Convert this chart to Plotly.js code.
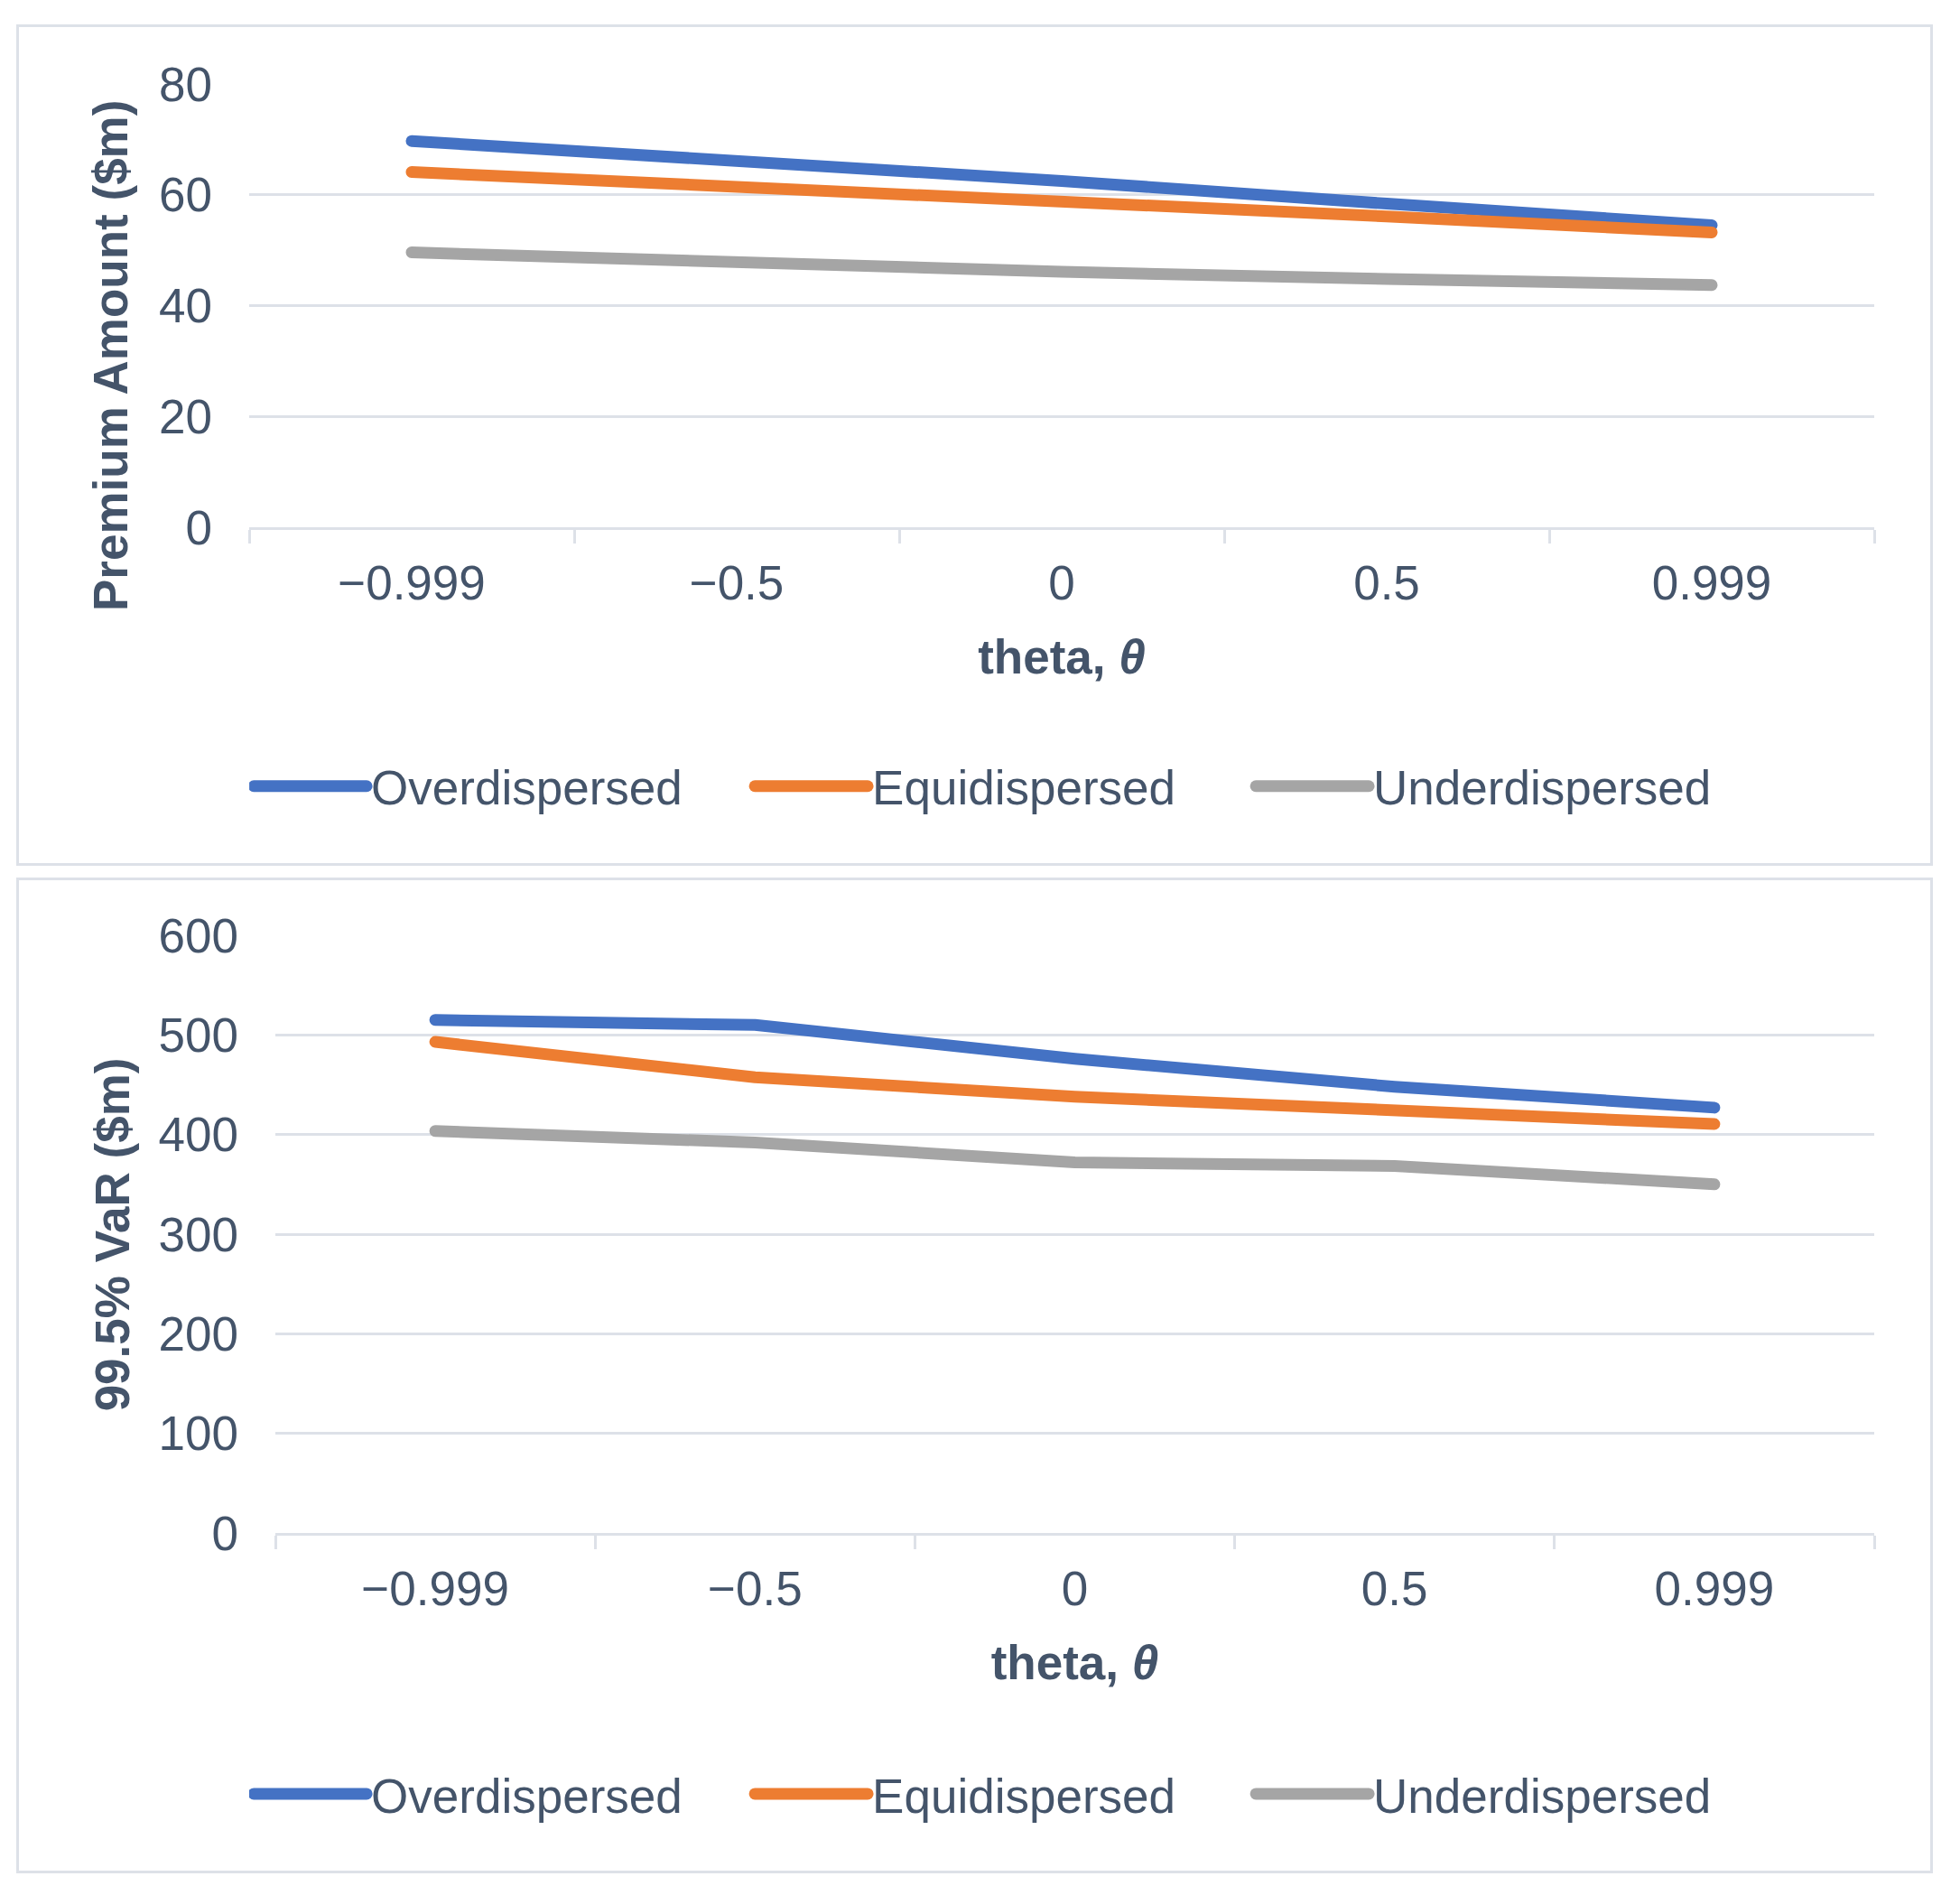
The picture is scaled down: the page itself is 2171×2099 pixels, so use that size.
<!DOCTYPE html>
<html>
<head>
<meta charset="utf-8">
<script src="https://cdn.plot.ly/plotly-3.0.1.min.js"></script>
<style>
    body { margin: 0; background: #ffffff; }
    .panel {
        position: absolute;
        left: 18px;
        width: 2123px;
        box-sizing: border-box;
        border: 3px solid #dde1e8;
        background: #ffffff;
    }
    #premiumPanel { top: 27px; height: 932px; }
    #varPanel { top: 972px; height: 1103px; }
</style>
</head>
<body>

<div class="panel" id="premiumPanel"><div id="premiumChart"></div></div>
<div class="panel" id="varPanel"><div id="varChart"></div></div>

<script>

// ==========================================================
// DATA
// ==========================================================

let thetaLabels = ["\u22120.999", "\u22120.5", "0", "0.5", "0.999"];

let seriesNames = ["Overdispersed", "Equidispersed", "Underdispersed"];

let premiumOver  = [69.7, 66.2, 62.5, 58.4, 54.5];
let premiumEqui  = [64.1, 61.6, 58.8, 56.1, 53.2];
let premiumUnder = [49.6, 47.8, 46.1, 44.8, 43.7];

let varOver  = [515, 510, 476, 448, 427];
let varEqui  = [493, 457.5, 438, 423.5, 410.5];
let varUnder = [403.5, 392, 372, 368.5, 350];


// ==========================================================
// STYLE
// ==========================================================

let seriesColors = ["#4472C4", "#ED7D31", "#A5A5A5"];

let textColor = "#44546A";

let gridColor = "#dde1e8";

let fontFamily = "'Liberation Sans', Arial, Helvetica, sans-serif";

let lineWidth = 13;

let plotConfig = { displayModeBar: false, staticPlot: true };


function makeTraces(values){

    return values.map((y, i) => ({
        x: thetaLabels,
        y: y,
        name: seriesNames[i],
        type: "scatter",
        mode: "lines",
        line: { color: seriesColors[i], width: lineWidth }
    }));

}


function chartLayout(opts){

    return {
        width: 2117,
        height: opts.height,
        margin: opts.margin,
        paper_bgcolor: "#ffffff",
        plot_bgcolor: "#ffffff",
        font: { family: fontFamily, size: 53, color: textColor },
        showlegend: true,
        legend: {
            orientation: "h",
            xref: "container",
            yref: "container",
            x: 0.1205,
            xanchor: "left",
            y: opts.legendY,
            yanchor: "middle",
            itemwidth: 125,
            entrywidth: 415,
            font: { family: fontFamily, size: 53, color: textColor }
        },
        xaxis: {
            type: "category",
            range: [-0.5, 4.5],
            showgrid: false,
            showline: true,
            linecolor: gridColor,
            linewidth: 3,
            ticks: "outside",
            tickson: "boundaries",
            ticklen: 15,
            tickwidth: 3,
            tickcolor: gridColor,
            ticklabelstandoff: 13,
            tickfont: { size: 53, color: textColor },
            title: {
                text: "<b>theta, <i>\u03b8</i></b>",
                font: { size: 53, color: textColor },
                standoff: 36
            }
        },
        yaxis: {
            range: opts.yRange,
            dtick: opts.dtick,
            showgrid: true,
            gridcolor: gridColor,
            gridwidth: 3,
            zeroline: false,
            ticks: "",
            ticklabelstandoff: 40,
            tickfont: { size: 53, color: textColor }
        },
        annotations: [
            {
                text: "<b>" + opts.yTitle + "</b>",
                textangle: -90,
                xref: "paper",
                yref: "paper",
                x: opts.yTitleX,
                y: opts.yTitleY,
                xanchor: "center",
                yanchor: "middle",
                showarrow: false,
                font: { size: 53, color: textColor }
            }
        ]
    };

}


// Excel draws the series with round caps and joins
function roundLines(gd){

    gd.querySelectorAll("path.js-line").forEach(p => {
        p.style.strokeLinecap = "round";
        p.style.strokeLinejoin = "round";
    });

    gd.querySelectorAll(".legendlines path").forEach(p => {
        p.style.strokeWidth = lineWidth + "px";
    });

}


// ==========================================================
// PREMIUM CHART
// ==========================================================

Plotly.newPlot(

    "premiumChart",

    makeTraces([premiumOver, premiumEqui, premiumUnder]),

    chartLayout({
        height: 926,
        margin: { l: 255, r: 62, t: 63, b: 372 },
        yRange: [0, 80],
        dtick: 20,
        yTitle: "Premium Amount ($m)",
        yTitleX: -0.085,
        yTitleY: 0.387,
        legendY: 0.092
    }),

    plotConfig

).then(roundLines);


// ==========================================================
// VaR CHART
// ==========================================================

Plotly.newPlot(

    "varChart",

    makeTraces([varOver, varEqui, varUnder]),

    chartLayout({
        height: 1097,
        margin: { l: 284, r: 62, t: 61, b: 374 },
        yRange: [0, 600],
        dtick: 100,
        yTitle: "99.5% VaR ($m)",
        yTitleX: -0.102,
        yTitleY: 0.5,
        legendY: 0.0775
    }),

    plotConfig

).then(roundLines);

</script>
</body>
</html>
